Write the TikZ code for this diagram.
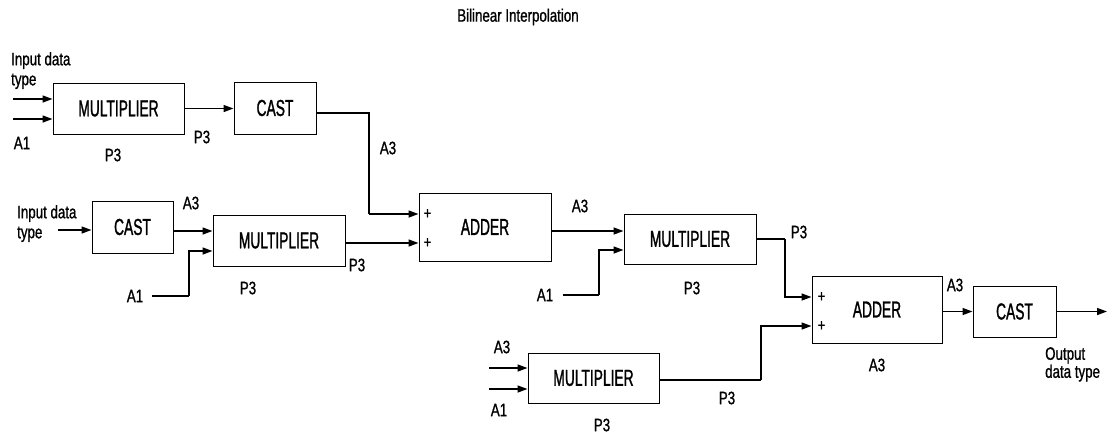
\documentclass[tikz,border=0pt]{standalone}
\usepackage{fontspec}
\setmainfont{Liberation Sans}[FakeStretch=0.6,FakeBold=1.2]
\newfontfamily\labfont{Liberation Sans}[FakeStretch=0.74,FakeBold=1]
\usetikzlibrary{arrows.meta}
\tikzset{
  blk/.style={draw, line width=1pt, inner sep=0pt, font=\fontsize{23}{25}\selectfont},
  lab/.style={inner sep=0pt, font=\labfont\fontsize{18}{20}\selectfont},
  plus/.style={inner sep=0pt, font=\labfont\fontsize{17}{18}\selectfont},
  arr/.style={line width=1.5pt, -{Triangle[length=10pt,width=7pt]}},
  ln/.style={line width=1.5pt},
}
\begin{document}
\begin{tikzpicture}[x=1pt,y=-1pt]
\useasboundingbox (0,0) rectangle (1108,437);
% title
\node[lab] (title) at (518,17) {Bilinear Interpolation};
% blocks
\node[blk, minimum width=131pt, minimum height=51pt] (m1) at (118.5,108.5) {MULTIPLIER};
\node[blk, minimum width=82pt, minimum height=52pt] (c1) at (275,108) {CAST};
\node[blk, minimum width=81pt, minimum height=52pt] (c2) at (132.5,227) {CAST};
\node[blk, minimum width=132pt, minimum height=51pt] (m2) at (279,240.5) {MULTIPLIER};
\node[blk, minimum width=132pt, minimum height=68pt] (a1) at (485,227) {ADDER};
\node[blk, minimum width=132pt, minimum height=50pt] (m3) at (690,239) {MULTIPLIER};
\node[blk, minimum width=130pt, minimum height=67pt] (a2) at (877,309.5) {ADDER};
\node[blk, minimum width=83pt, minimum height=51pt] (c3) at (1014.5,311.5) {CAST};
\node[blk, minimum width=131pt, minimum height=50pt] (m4) at (593.5,378) {MULTIPLIER};
% port coordinates
\coordinate (m1in1) at ([yshift=9.5pt]m1.west);
\coordinate (m1in2) at ([yshift=-10.5pt]m1.west);
\coordinate (m2in1) at ([yshift=9.5pt]m2.west);
\coordinate (m2in2) at ([yshift=-10.5pt]m2.west);
\coordinate (a1in1) at ([yshift=13pt]a1.west);
\coordinate (a1in2) at ([yshift=-16pt]a1.west);
\coordinate (m3in1) at ([yshift=8pt]m3.west);
\coordinate (m3in2) at ([yshift=-11pt]m3.west);
\coordinate (a2in1) at ([yshift=12.5pt]a2.west);
\coordinate (a2in2) at ([yshift=-16.5pt]a2.west);
\coordinate (m4in1) at ([yshift=10pt]m4.west);
\coordinate (m4in2) at ([yshift=-11pt]m4.west);
% free ends and bends
\coordinate (s1a) at (13,99);
\coordinate (s1b) at (13,119);
\coordinate (s2) at (58,230);
\coordinate (s3) at (152,296);
\coordinate (k3) at (189,296);
\coordinate (j1) at (369,214);
\coordinate (s4) at (563,295);
\coordinate (k4) at (599,295);
\coordinate (k5) at (785,239);
\coordinate (k6) at (761,380);
\coordinate (s7a) at (489,368);
\coordinate (s7b) at (489,389);
\coordinate (out) at (1107,311.5);
% connectors
\draw[arr] (s1a) -- (s1a -| m1.west);
\draw[arr] (s1b) -- (s1b -| m1.west);
\draw[arr] (m1.east) -- (m1.east -| c1.west);
\draw[ln] ([yshift=-5pt]c1.east) -| (j1);
\draw[arr] (j1) -- (a1in1);
\draw[arr] (s2) -- (s2 -| c2.west);
\draw[arr] (c2.east |- m2in1) -- (m2in1);
\draw[ln] (s3) -- (k3);
\draw[arr] (k3) |- (m2in2);
\draw[arr] (m2.east |- a1in2) -- (a1in2);
\draw[arr] (a1.east |- m3in1) -- (m3in1);
\draw[ln] (s4) -- (k4);
\draw[arr] (k4) |- (m3in2);
\draw[ln] (m3.east) -- (k5);
\draw[arr] (k5) |- (a2in1);
\draw[arr] (s7a) -- (m4in1);
\draw[arr] (s7b) -- (m4in2);
\draw[ln] (m4.east |- k6) -- (k6);
\draw[arr] (k6) |- (a2in2);
\draw[arr] (a2.east |- c3.west) -- (c3.west);
\draw[arr] (c3.east) -- (out);
% plus signs
\node[plus] (p1) at ([xshift=9pt]a1in1) {+};
\node[plus] (p2) at ([xshift=9pt]a1in2) {+};
\node[plus] (p3) at ([xshift=10pt]a2in1) {+};
\node[plus] (p4) at ([xshift=10pt]a2in2) {+};
% labels
\node[lab, align=left, anchor=north west] (t1) at (11,52) {Input data\\type};
\node[lab, align=left, anchor=north west] (t2) at (17,205) {Input data\\type};
\node[lab, align=left, anchor=north west, font=\labfont\fontsize{18}{18}\selectfont] (t3) at (1045,347) {Output\\data type};
\node[lab] (l1) at (22,143) {A1};
\node[lab] (l2) at (113,155) {P3};
\node[lab] (l3) at (202,137) {P3};
\node[lab] (l4) at (388,148) {A3};
\node[lab] (l5) at (191,203) {A3};
\node[lab] (l6) at (135,296) {A1};
\node[lab] (l7) at (248,288) {P3};
\node[lab] (l8) at (357,265) {P3};
\node[lab] (l9) at (580,206) {A3};
\node[lab] (l10) at (545,295) {A1};
\node[lab] (l11) at (692,288) {P3};
\node[lab] (l12) at (799,232) {P3};
\node[lab] (l13) at (955,285) {A3};
\node[lab] (l14) at (877,365) {A3};
\node[lab] (l15) at (502,347) {A3};
\node[lab] (l16) at (499,410) {A1};
\node[lab] (l17) at (602,425) {P3};
\node[lab] (l18) at (727,398) {P3};
\end{tikzpicture}
\end{document}
